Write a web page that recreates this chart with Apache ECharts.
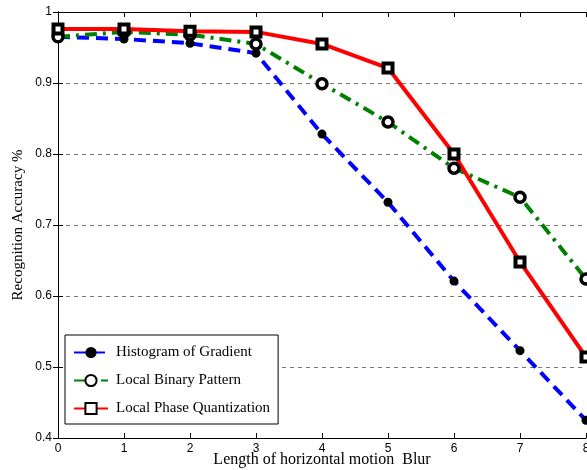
<!DOCTYPE html>
<html>
<head>
<meta charset="utf-8">
<title>Recognition accuracy vs motion blur</title>
<script src="https://cdn.jsdelivr.net/npm/echarts@6/dist/echarts.min.js"></script>
<style>
  html, body { margin: 0; padding: 0; background: #fff; }
  #chart { width: 587px; height: 470px; }
</style>
</head>
<body>
<div id="chart"></div>
<script>
// blur length (x) and accuracy per descriptor
var blurLength = [0, 1, 2, 3, 4, 5, 6, 7, 8];
var hog = [0.965, 0.962, 0.956, 0.942, 0.828, 0.732, 0.621, 0.523, 0.425];
var lbp = [0.965, 0.972, 0.968, 0.955, 0.899, 0.845, 0.780, 0.739, 0.624];
var lpq = [0.976, 0.976, 0.973, 0.972, 0.955, 0.921, 0.800, 0.648, 0.514];
var seriesNames = ['Histogram of Gradient', 'Local Binary Pattern', 'Local Phase Quantization'];

function pairs(ys) {
    return blurLength.map(function (x, i) { return [x, ys[i]]; });
}

var serif = '"Liberation Serif", "DejaVu Serif", serif';
var sans = '"Liberation Sans", Arial, sans-serif';

var myChart = echarts.init(document.getElementById('chart'));
var option = {
    animation: false,
    grid: { left: 58, right: 1, top: 12, bottom: 32, show: false, outerBoundsMode: 'none', containLabel: false },
    legend: {
        orient: 'vertical',
        left: 65,
        top: 335,
        padding: [10, 8, 8, 8],
        itemGap: 13,
        itemWidth: 34,
        itemHeight: 14,
        backgroundColor: '#fff',
        borderColor: '#000',
        borderWidth: 1,
        textStyle: { fontFamily: serif, fontSize: 15, color: '#000', padding: [0, 0, 0, 3] },
        data: seriesNames
    },
    xAxis: [{
        type: 'value',
        min: 0, max: 8, interval: 1,
        name: 'Length of horizontal motion  Blur',
        nameLocation: 'middle',
        nameGap: 14,
        nameMoveOverlap: false,
        nameTextStyle: { fontFamily: serif, fontSize: 16, color: '#000' },
        axisLine: { lineStyle: { color: '#000', width: 1 } },
        axisTick: { inside: true, length: 5, lineStyle: { color: '#000' } },
        axisLabel: { fontFamily: sans, fontSize: 12, color: '#000', margin: 5 },
        splitLine: { show: false }
    }, {
        type: 'value',
        position: 'top',
        min: 0, max: 8, interval: 1,
        axisLine: { lineStyle: { color: '#000', width: 1 } },
        axisTick: { inside: true, length: 5, lineStyle: { color: '#000' } },
        axisLabel: { show: false },
        splitLine: { show: false }
    }],
    yAxis: [{
        type: 'value',
        min: 0.4, max: 1, interval: 0.1,
        name: 'Recognition Accuracy %',
        nameLocation: 'middle',
        nameGap: 32,
        nameMoveOverlap: false,
        nameTextStyle: { fontFamily: serif, fontSize: 15, color: '#000' },
        axisLine: { show: true, lineStyle: { color: '#000', width: 1 } },
        axisTick: { show: true, inside: true, length: 5, lineStyle: { color: '#000' } },
        axisLabel: {
            fontFamily: sans, fontSize: 12, color: '#000', margin: 6,
            formatter: function (v) { return String(Math.round(v * 10) / 10); }
        },
        splitLine: { show: true, lineStyle: { color: '#777', type: [4, 4], width: 1 } }
    }, {
        type: 'value',
        position: 'right',
        min: 0.4, max: 1, interval: 0.1,
        axisLine: { show: true, lineStyle: { color: '#000', width: 1 } },
        axisTick: { show: true, inside: true, length: 5, lineStyle: { color: '#000' } },
        axisLabel: { show: false },
        splitLine: { show: false }
    }],
    series: [{
        name: seriesNames[0],
        type: 'line',
        data: pairs(hog),
        clip: false,
        symbol: 'circle',
        symbolSize: 9,
        itemStyle: { color: '#000' },
        lineStyle: { color: '#0000ff', width: 4, type: [12, 7], cap: 'butt' }
    }, {
        name: seriesNames[1],
        type: 'line',
        data: pairs(lbp),
        clip: false,
        symbol: 'circle',
        symbolSize: 10,
        itemStyle: { color: '#fff', borderColor: '#000', borderWidth: 3.5 },
        lineStyle: { color: '#008000', width: 4, type: [12, 6, 3, 6], cap: 'butt' }
    }, {
        name: seriesNames[2],
        type: 'line',
        data: pairs(lpq),
        clip: false,
        symbol: 'rect',
        symbolSize: 9,
        itemStyle: { color: '#fff', borderColor: '#000', borderWidth: 4 },
        lineStyle: { color: '#ff0000', width: 4, type: 'solid' }
    }]
};
myChart.setOption(option);
</script>
</body>
</html>
